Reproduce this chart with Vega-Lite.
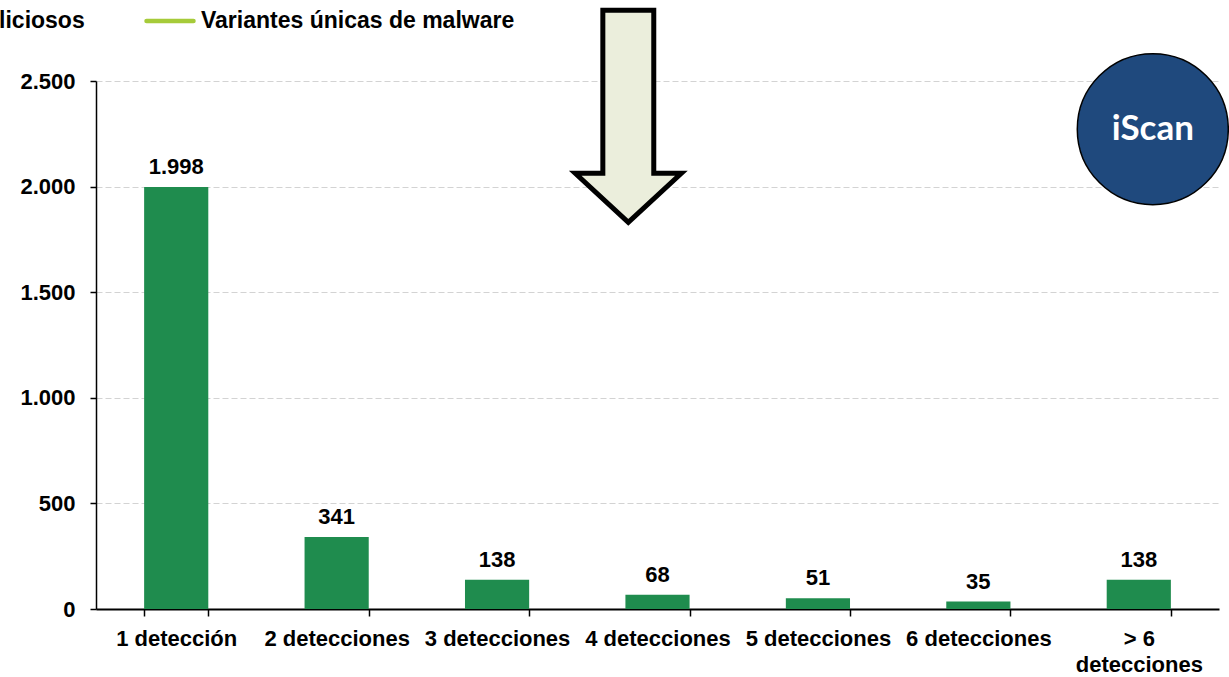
{
  "$schema": "https://vega.github.io/schema/vega-lite/v6.json",
  "width": 1123,
  "height": 528,
  "autosize": {"type": "none"},
  "padding": {"left": 96, "top": 81, "right": 10, "bottom": 68},
  "background": "white",
  "config": {
    "locale": {"number": {"decimal": ",", "thousands": ".", "grouping": [3], "currency": ["", " €"]}},
    "view": {"stroke": null},
    "font": "Liberation Sans",
    "axis": {
      "labelFont": "Liberation Sans",
      "labelFontWeight": "bold",
      "labelFontSize": 22,
      "labelColor": "#000000",
      "domainColor": "#000000",
      "tickColor": "#000000",
      "title": null
    }
  },
  "data": {
    "values": [
      {"categoria": "1 detección", "archivos": 1998, "serie": "Archivos maliciosos"},
      {"categoria": "2 detecciones", "archivos": 341, "serie": "Archivos maliciosos"},
      {"categoria": "3 detecciones", "archivos": 138, "serie": "Archivos maliciosos"},
      {"categoria": "4 detecciones", "archivos": 68, "serie": "Archivos maliciosos"},
      {"categoria": "5 detecciones", "archivos": 51, "serie": "Archivos maliciosos"},
      {"categoria": "6 detecciones", "archivos": 35, "serie": "Archivos maliciosos"},
      {"categoria": "> 6 detecciones", "archivos": 138, "serie": "Archivos maliciosos"}
    ]
  },
  "layer": [
    {
      "mark": {"type": "bar"},
      "encoding": {
        "x": {
          "field": "categoria",
          "type": "nominal",
          "sort": null,
          "scale": {"paddingInner": 0.6, "paddingOuter": 0.3},
          "axis": {
            "labelAngle": 0,
            "domainWidth": 2,
            "tickBand": "extent",
            "tickSize": 7,
            "tickWidth": 1.5,
            "labelPadding": 12,
            "labelLineHeight": 26,
            "labelLimit": 0,
            "labelExpr": "datum.value === '> 6 detecciones' ? ['> 6', 'detecciones'] : datum.value"
          }
        },
        "y": {
          "field": "archivos",
          "type": "quantitative",
          "scale": {"domain": [0, 2500], "nice": false},
          "axis": {
            "values": [0, 500, 1000, 1500, 2000, 2500],
            "format": ",d",
            "domainWidth": 1.5,
            "tickSize": 6,
            "tickWidth": 1.5,
            "labelPadding": 15,
            "grid": true,
            "gridColor": "#d3d3d3",
            "gridDash": [6, 3],
            "gridWidth": 1.2
          }
        },
        "color": {
          "field": "serie",
          "type": "nominal",
          "scale": {
            "domain": ["Archivos maliciosos", "Variantes únicas de malware"],
            "range": ["#1f8c4e", "#a6cb3a"]
          },
          "legend": {
            "title": null,
            "orient": "none",
            "legendX": -292,
            "legendY": -86,
            "direction": "horizontal",
            "symbolType": "stroke",
            "symbolSize": 2209,
            "symbolStrokeWidth": 4.5,
            "labelOffset": 5,
            "columnPadding": 52,
            "labelFont": "Liberation Sans",
            "labelFontSize": 23,
            "labelFontWeight": "bold",
            "labelColor": "#000000",
            "labelLimit": 500,
            "padding": 0,
            "encode": {
              "symbols": {
                "update": {
                  "stroke": {"scale": "color", "field": "value"},
                  "fill": {"value": "transparent"},
                  "strokeCap": {"value": "round"}
                }
              }
            }
          }
        }
      }
    },
    {
      "mark": {
        "type": "text",
        "font": "Liberation Sans",
        "fontWeight": "bold",
        "fontSize": 22,
        "color": "#000000",
        "baseline": "alphabetic",
        "dy": -13
      },
      "encoding": {
        "x": {"field": "categoria", "type": "nominal", "sort": null},
        "y": {"field": "archivos", "type": "quantitative"},
        "text": {"field": "archivos", "type": "quantitative", "format": ",d"}
      }
    },
    {
      "data": {"values": [{"nota": "flecha"}]},
      "mark": {
        "type": "point",
        "filled": true,
        "shape": "M-0.24,-1 L0.24,-1 L0.24,0.538 L0.5,0.538 L0,1 L-0.5,0.538 L-0.24,0.538 Z",
        "size": 45030,
        "fill": "#ebeedc",
        "stroke": "#000000",
        "strokeWidth": 5,
        "strokeJoin": "miter",
        "opacity": 1,
        "fillOpacity": 1
      },
      "encoding": {
        "x": {"datum": "4 detecciones", "type": "nominal", "bandPosition": 0.045},
        "y": {"datum": 2333, "type": "quantitative"}
      }
    },
    {
      "data": {"values": [{"texto": "iScan"}]},
      "mark": {
        "type": "point",
        "shape": "circle",
        "filled": true,
        "size": 22801,
        "fill": "#1f497d",
        "stroke": "#000000",
        "strokeWidth": 1.5,
        "opacity": 1,
        "fillOpacity": 1,
        "xOffset": 14
      },
      "encoding": {
        "x": {"datum": "> 6 detecciones", "type": "nominal"},
        "y": {"datum": 2272, "type": "quantitative"}
      }
    },
    {
      "data": {"values": [{"texto": "iScan"}]},
      "mark": {
        "type": "text",
        "font": "Lato",
        "fontWeight": "bold",
        "fontSize": 35,
        "color": "#ffffff",
        "baseline": "middle",
        "align": "center",
        "xOffset": 14
      },
      "encoding": {
        "x": {"datum": "> 6 detecciones", "type": "nominal"},
        "y": {"datum": 2272, "type": "quantitative"},
        "text": {"field": "texto", "type": "nominal"}
      }
    }
  ]
}
